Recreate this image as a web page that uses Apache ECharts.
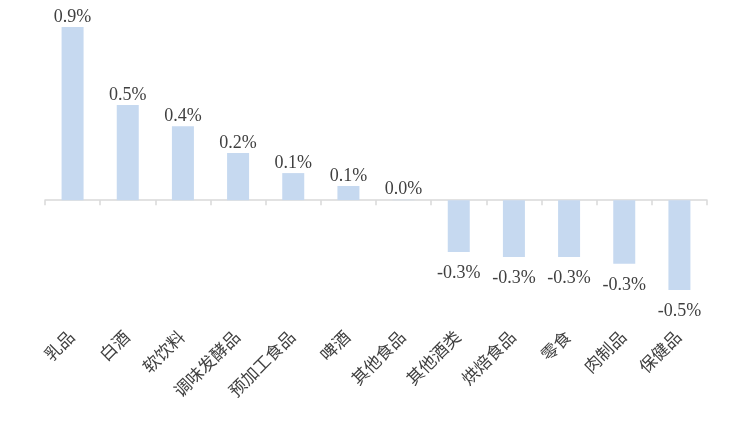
<!DOCTYPE html>
<html>
<head>
<meta charset="utf-8">
<script src="https://cdn.jsdelivr.net/npm/echarts@6/dist/echarts.min.js"></script>
<style>
html,body{margin:0;padding:0;background:#fff;}
#c{width:749px;height:447px;}
</style>
</head>
<body>
<div id="c"></div>
<script>
const categories = ['乳品','白酒','软饮料','调味发酵品','预加工食品','啤酒','其他食品','其他酒类','烘焙食品','零食','肉制品','保健品'];
const values = [0.896, 0.492, 0.383, 0.244, 0.140, 0.073, 0.002, -0.268, -0.295, -0.295, -0.330, -0.465];

const chart = echarts.init(document.getElementById('c'));
const textColor = '#404040';
const seriesData = values.map(v => ({
  value: v,
  label: v >= 0 ? {position: 'top', distance: 1} : {position: 'bottom', distance: 12}
}));

chart.setOption({
  animation: false,
  backgroundColor: '#fff',
  grid: {left: 45, right: 42, top: 7, bottom: 131},
  xAxis: [{
    type: 'category',
    data: categories,
    position: 'bottom',
    axisLine: {onZero: true, lineStyle: {color: '#D9D9D9', width: 1.5}},
    axisTick: {show: true, interval: 0, length: 5, lineStyle: {color: '#D9D9D9', width: 1.5}},
    axisLabel: {show: false}
  }, {
    type: 'category',
    data: categories,
    position: 'bottom',
    axisLine: {show: false, onZero: false},
    axisTick: {show: false},
    axisLabel: {
      show: true, rotate: 45, margin: 19, interval: 0,
      color: textColor, fontSize: 17,
      fontFamily: '"Liberation Serif", "Noto Sans CJK SC", serif'
    }
  }],
  yAxis: {
    type: 'value', min: -0.6, max: 1.0, show: false,
    splitLine: {show: false}
  },
  series: [{
    type: 'bar',
    xAxisIndex: 0,
    data: seriesData,
    barWidth: 22,
    itemStyle: {color: '#C6D9F0'},
    label: {
      show: true,
      color: textColor,
      fontSize: 18,
      fontFamily: '"Liberation Serif", serif',
      formatter: p => p.value.toFixed(1) + '%'
    }
  }]
});
</script>
</body>
</html>
